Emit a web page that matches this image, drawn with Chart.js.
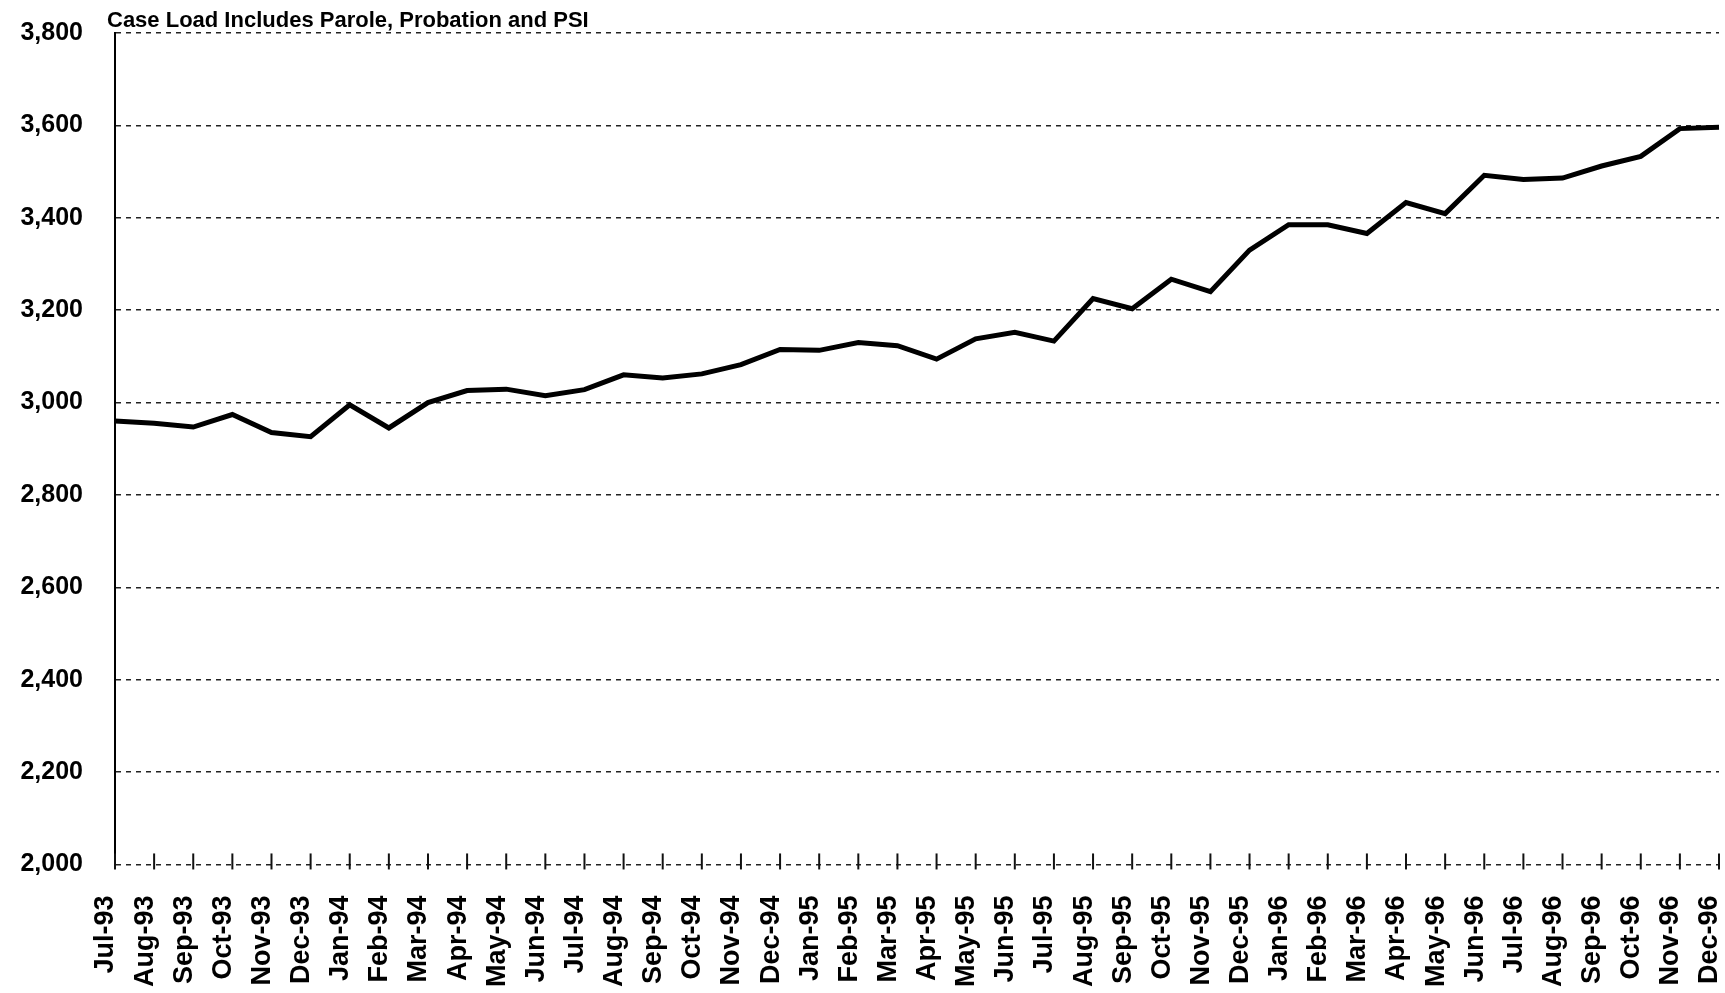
<!DOCTYPE html>
<html lang="en">
<head>
    <meta charset="UTF-8">
    <title>Case Load</title>
    <script src="https://cdn.jsdelivr.net/npm/chart.js"></script>
    <style>
        body { margin: 0; background: #fff; }
    </style>
</head>
<body>
    <canvas id="myChart" width="1725" height="993"></canvas>
    <script>
            const months = [
                'Jul-93', 'Aug-93', 'Sep-93', 'Oct-93', 'Nov-93', 'Dec-93',
                'Jan-94', 'Feb-94', 'Mar-94', 'Apr-94', 'May-94', 'Jun-94',
                'Jul-94', 'Aug-94', 'Sep-94', 'Oct-94', 'Nov-94', 'Dec-94',
                'Jan-95', 'Feb-95', 'Mar-95', 'Apr-95', 'May-95', 'Jun-95',
                'Jul-95', 'Aug-95', 'Sep-95', 'Oct-95', 'Nov-95', 'Dec-95',
                'Jan-96', 'Feb-96', 'Mar-96', 'Apr-96', 'May-96', 'Jun-96',
                'Jul-96', 'Aug-96', 'Sep-96', 'Oct-96', 'Nov-96', 'Dec-96'
            ];

            const caseLoad = [
                2960, 2955, 2947, 2974, 2935, 2926,
                2995, 2945, 3000, 3026, 3029, 3015,
                3028, 3060, 3053, 3062, 3082, 3115,
                3113, 3130, 3123, 3094, 3138, 3152,
                3133, 3225, 3203, 3267, 3240, 3330,
                3385, 3385, 3366, 3433, 3409, 3492,
                3483, 3486, 3512, 3533, 3593, 3596
            ];

            const yMin = 2000;
            const yMax = 3800;
            const yStep = 200;

            const titleText = 'Case Load Includes Parole, Probation and PSI';

            // note text above the top gridline + short ticks crossing the bottom line
            const extras = {
                id: 'extras',
                afterDatasetsDraw(chart) {
                    const xs = chart.scales.x;
                    const area = chart.chartArea;
                    const y0 = chart.scales.y.getPixelForValue(yMin);
                    const c = chart.ctx;
                    c.save();
                    c.strokeStyle = '#111';
                    c.lineWidth = 2;
                    xs.ticks.forEach((t, i) => {
                        const px = xs.getPixelForTick(i);
                        c.beginPath();
                        c.moveTo(px, y0 - 11);
                        c.lineTo(px, y0 + 5);
                        c.stroke();
                    });
                    c.fillStyle = '#000';
                    c.font = 'bold 22px "Liberation Sans"';
                    c.textBaseline = 'alphabetic';
                    c.fillText(titleText, area.left - 8, area.top - 6);
                    c.restore();
                }
            };

            const ctx = document.getElementById('myChart').getContext('2d');
            const myChart = new Chart(ctx, {
                type: 'line',
                data: {
                    labels: months,
                    datasets: [
                        {
                            label: 'Case Load',
                            data: caseLoad,
                            borderColor: '#000',
                            borderWidth: 5,
                            pointRadius: 0,
                            tension: 0,
                            fill: false
                        }
                    ]
                },
                options: {
                    responsive: false,
                    animation: false,
                    layout: {
                        padding: { left: 20, right: 6, top: 33, bottom: 2 }
                    },
                    scales: {
                        x: {
                            offset: false,
                            grid: {
                                display: true,
                                drawOnChartArea: false,
                                drawTicks: true,
                                tickLength: 27,
                                tickColor: 'rgba(0,0,0,0)'
                            },
                            border: { display: false },
                            ticks: {
                                autoSkip: false,
                                minRotation: 90,
                                maxRotation: 90,
                                padding: 4,
                                labelOffset: -9,
                                color: '#000',
                                font: { family: 'Liberation Sans', size: 27, weight: 'bold' }
                            },
                            afterFit(scale) {
                                scale.paddingLeft = 0;
                                scale.paddingRight = 0;
                            }
                        },
                        y: {
                            min: yMin,
                            max: yMax,
                            grid: {
                                color: '#222',
                                lineWidth: 1.5,
                                drawTicks: false
                            },
                            border: { display: true, color: '#000', width: 2, dash: [5, 5] },
                            ticks: {
                                stepSize: yStep,
                                padding: 32,
                                color: '#000',
                                font: { family: 'Liberation Sans', size: 25, weight: 'bold' }
                            },
                            afterFit(scale) {
                                scale.width = 95;
                                scale.paddingTop = 0;
                                scale.paddingBottom = 0;
                            }
                        }
                    },
                    plugins: {
                        legend: { display: false },
                        tooltip: { enabled: false },
                        title: { display: false }
                    }
                },
                plugins: [extras]
            });
    </script>
</body>
</html>
